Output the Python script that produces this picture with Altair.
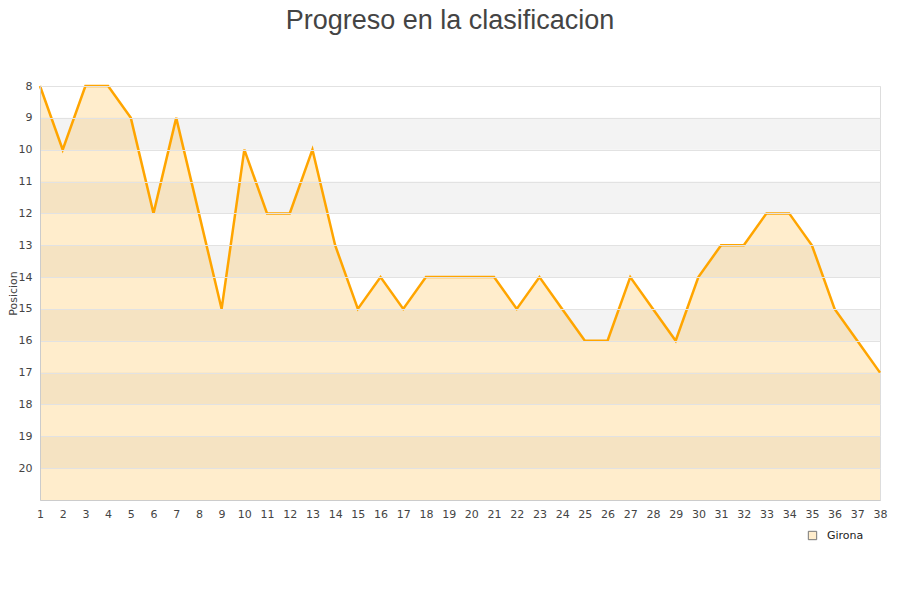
import altair as alt
import pandas as pd

jornadas = list(range(1, 39))
posiciones = [8, 10, 8, 8, 9, 12, 9, 12, 15, 10, 12, 12, 10, 13, 15, 14, 15, 14, 14, 14,
              14, 15, 14, 15, 16, 16, 14, 15, 16, 14, 13, 13, 12, 12, 13, 15, 16, 17]
equipo = "Girona"
band_starts = [9, 11, 13, 15, 17, 19]
y_ticks = list(range(8, 21))

df = pd.DataFrame({"Jornada": jornadas, "Posicion": posiciones, "Equipo": [equipo] * len(jornadas)})
bands = pd.DataFrame({"y": band_starts, "y2": [b + 1 for b in band_starts]})
legend_df = pd.DataFrame({"Equipo": [equipo], "Jornada": [1], "Posicion": [8]})

xscale = alt.Scale(domain=[1, 38], nice=False, zero=False)
yscale = alt.Scale(domain=[8, 21], reverse=True, nice=False, zero=False)

xaxis = alt.Axis(values=jornadas, title=None, grid=False, ticks=False, labelPadding=8,
                 domainColor="#cccccc", labelColor="#444444", labelFontSize=11,
                 labelFont="DejaVu Sans", format="d", labelFlush=False,
                 labelOverlap=False, zindex=1)
yaxis = alt.Axis(values=y_ticks, title="Posicion", grid=True, gridColor="#e2e2e2",
                 ticks=False, labelPadding=8, domain=True, domainColor="#cccccc",
                 labelColor="#444444", labelFontSize=11, titleFontSize=11,
                 titleFontWeight="normal", titleColor="#444444",
                 titleX=-22, titleY=207, labelFont="DejaVu Sans", titleFont="DejaVu Sans",
                 labelOverlap=False, zindex=1)

band_layer = alt.Chart(bands).mark_rect(color="#f3f3f3").encode(
    y=alt.Y("y:Q", scale=yscale, axis=yaxis),
    y2="y2:Q",
    x=alt.value(0),
    x2=alt.value(840),
)

area = alt.Chart(df).mark_area(opacity=0.2, interpolate="linear", color="#ffa500").encode(
    x=alt.X("Jornada:Q", scale=xscale, axis=xaxis),
    y=alt.Y("Posicion:Q", scale=yscale, axis=yaxis),
    y2=alt.datum(21),
)

line = alt.Chart(df).mark_line(color="#ffa500", strokeWidth=2.5).encode(
    x=alt.X("Jornada:Q", scale=xscale, axis=xaxis),
    y=alt.Y("Posicion:Q", scale=yscale, axis=yaxis),
)

legend_layer = alt.Chart(legend_df).mark_square(size=0, opacity=0, filled=True).encode(
    x=alt.X("Jornada:Q", scale=xscale, axis=xaxis),
    y=alt.Y("Posicion:Q", scale=yscale, axis=yaxis),
    color=alt.Color("Equipo:N", scale=alt.Scale(range=["#ffedcc"]),
                    legend=alt.Legend(orient="none", legendX=767, legendY=444, title=None,
                                      symbolType="square", symbolSize=70,
                                      symbolStrokeColor="#777777",
                                      symbolStrokeWidth=1, symbolOpacity=1,
                                      labelFontSize=11, labelColor="#222222",
                                      labelFont="DejaVu Sans", padding=0, labelOffset=9)),
)

chart = alt.layer(band_layer, area, line, legend_layer).properties(
    width=840,
    height=414,
    title=alt.Title("Progreso en la clasificacion", fontSize=27, font="Liberation Sans",
                    fontWeight="normal", color="#444444", anchor="middle", offset=45, dx=-10),
    autosize=alt.AutoSizeParams(type="none"),
    padding={"left": 32, "top": 78, "right": 12, "bottom": 60},
).configure_view(stroke="#dddddd", strokeWidth=1)

chart.save("out.html", embed_options={"renderer": "svg", "actions": False})
